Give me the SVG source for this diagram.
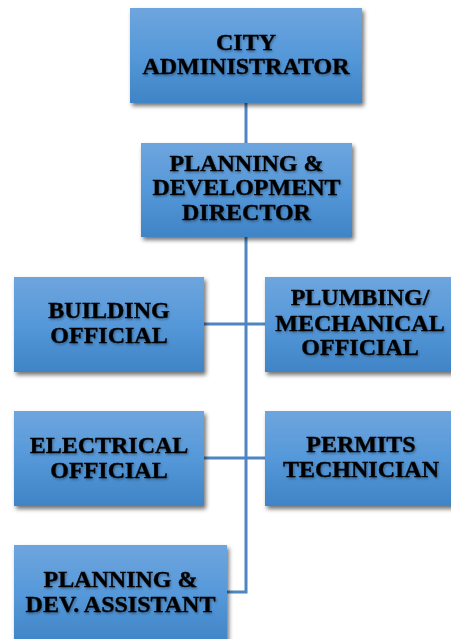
<svg xmlns="http://www.w3.org/2000/svg" width="451" height="639" viewBox="0 0 451 639">
<defs>
<linearGradient id="g" x1="0" y1="0" x2="0" y2="1">
<stop offset="0" stop-color="#6ea5de"/>
<stop offset="0.5" stop-color="#5598d9"/>
<stop offset="1" stop-color="#3f84c6"/>
</linearGradient>
<filter id="sh" x="-10%" y="-10%" width="125%" height="130%">
<feDropShadow dx="2" dy="3" stdDeviation="2.2" flood-color="#000" flood-opacity="0.55"/>
</filter>
<filter id="ts" x="-5%" y="-20%" width="110%" height="150%">
<feDropShadow dx="1" dy="1.5" stdDeviation="1" flood-color="#000" flood-opacity="0.35"/>
</filter>
</defs>
<style>
.box{fill:url(#g);filter:url(#sh)}
.t{font-family:"Liberation Serif","Times New Roman",serif;font-weight:bold;font-size:24px;fill:#000;stroke:#000;stroke-width:0.35;text-anchor:middle;filter:url(#ts)}
.c{stroke:#4f86c2;stroke-width:3;fill:none}
</style>
<g id="connectors">
<line class="c" x1="246" y1="103" x2="246" y2="143"/>
<polyline class="c" points="246,237 246,592 227,592"/>
<line class="c" x1="204" y1="324" x2="265" y2="324"/>
<line class="c" x1="204" y1="458" x2="265" y2="458"/>
</g>
<g id="city-administrator">
<rect class="box" x="130" y="8" width="232" height="95"/>
<text class="t" x="246" y="50">CITY</text>
<text class="t" x="246" y="74">ADMINISTRATOR</text>
</g>
<g id="planning-director">
<rect class="box" x="141" y="143" width="211" height="94"/>
<text class="t" x="246.5" y="171">PLANNING &amp;</text>
<text class="t" x="246.5" y="195">DEVELOPMENT</text>
<text class="t" x="246.5" y="220">DIRECTOR</text>
</g>
<g id="building-official">
<rect class="box" x="14" y="277" width="190" height="95"/>
<text class="t" x="109" y="318">BUILDING</text>
<text class="t" x="109" y="343">OFFICIAL</text>
</g>
<g id="plumbing-official">
<rect class="box" x="265" y="277" width="192" height="95"/>
<text class="t" x="360" y="305">PLUMBING/</text>
<text class="t" x="360" y="331">MECHANICAL</text>
<text class="t" x="360" y="355">OFFICIAL</text>
</g>
<g id="electrical-official">
<rect class="box" x="14" y="411" width="190" height="95"/>
<text class="t" x="109" y="453">ELECTRICAL</text>
<text class="t" x="109" y="478">OFFICIAL</text>
</g>
<g id="permits-technician">
<rect class="box" x="265" y="411" width="192" height="95"/>
<text class="t" x="361" y="452">PERMITS</text>
<text class="t" x="361" y="477">TECHNICIAN</text>
</g>
<g id="planning-assistant">
<rect class="box" x="14" y="545" width="213" height="100"/>
<text class="t" x="120.5" y="587">PLANNING &amp;</text>
<text class="t" x="120.5" y="612">DEV. ASSISTANT</text>
</g>
</svg>
